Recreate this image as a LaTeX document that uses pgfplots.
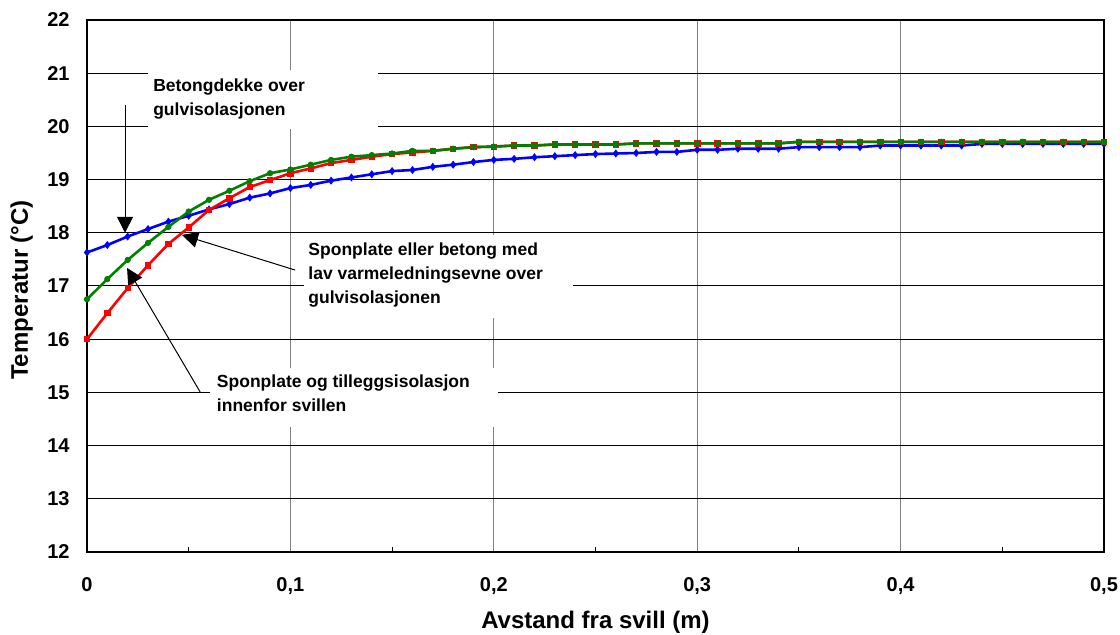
\documentclass[border=0pt]{standalone}
\usepackage{fontspec}
\setmainfont{Liberation Sans}
\usepackage{pgfplots}
\pgfplotsset{compat=1.18}
\usetikzlibrary{arrows.meta}
\definecolor{cblue}{RGB}{0,0,255}
\definecolor{cred}{RGB}{255,0,0}
\definecolor{cgreen}{RGB}{0,128,0}
\begin{document}
\begin{tikzpicture}
\begin{axis}[
  scale only axis, width=508.5pt, height=266pt,
  xmin=0, xmax=0.5, ymin=12, ymax=22,
  clip=false,
  xtick={0,0.1,0.2,0.3,0.4,0.5},
  xticklabels={0,{0,1},{0,2},{0,3},{0,4},{0,5}},
  ytick={12,13,14,15,16,17,18,19,20,21,22},
  minor xtick={0.05,0.15,0.25,0.35,0.45},
  xtick pos=bottom, ytick pos=left,
  tick align=inside,
  major tick length=0pt, minor tick length=2.5pt,
  minor tick style={black, line width=0.5pt},
  xmajorgrids, ymajorgrids,
  x grid style={gray, line width=0.5pt},
  y grid style={black, line width=0.5pt},
  axis line style={black, line width=1.3pt},
  /pgf/number format/assume math mode=true,
  ticklabel style={font=\fontsize{10}{12}\selectfont\bfseries},
  yticklabel style={inner sep=0pt, xshift=-8.5pt},
  xticklabel style={inner sep=0pt, yshift=-12.5pt},
  every axis plot/.append style={line width=1.3pt},
]
\addplot[cblue, mark=diamond*, mark size=1.7pt, mark options={line width=0.4pt}] coordinates {
(0,17.63)(0.01,17.77)(0.02,17.93)(0.03,18.07)(0.04,18.21)(0.05,18.32)(0.06,18.44)(0.07,18.54)(0.08,18.66)(0.09,18.74)
(0.10,18.84)(0.11,18.90)(0.12,18.98)(0.13,19.04)(0.14,19.10)(0.15,19.16)(0.16,19.18)(0.17,19.24)(0.18,19.28)(0.19,19.33)
(0.20,19.37)(0.21,19.39)(0.22,19.42)(0.23,19.44)(0.24,19.46)(0.25,19.48)(0.26,19.49)(0.27,19.50)(0.28,19.52)(0.29,19.52)
(0.30,19.56)(0.31,19.56)(0.32,19.58)(0.33,19.58)(0.34,19.58)(0.35,19.61)(0.36,19.61)(0.37,19.61)(0.38,19.61)(0.39,19.64)
(0.40,19.64)(0.41,19.64)(0.42,19.64)(0.43,19.64)(0.44,19.67)(0.45,19.67)(0.46,19.67)(0.47,19.67)(0.48,19.67)(0.49,19.67)
(0.50,19.67)};
\addplot[cred, mark=square*, mark size=1.35pt, mark options={line width=0.4pt}] coordinates {
(0,16.00)(0.01,16.49)(0.02,16.96)(0.03,17.39)(0.04,17.79)(0.05,18.10)(0.06,18.43)(0.07,18.65)(0.08,18.86)(0.09,18.99)
(0.10,19.12)(0.11,19.21)(0.12,19.31)(0.13,19.37)(0.14,19.43)(0.15,19.48)(0.16,19.51)(0.17,19.54)(0.18,19.58)(0.19,19.61)
(0.20,19.62)(0.21,19.64)(0.22,19.64)(0.23,19.66)(0.24,19.66)(0.25,19.66)(0.26,19.66)(0.27,19.68)(0.28,19.68)(0.29,19.68)
(0.30,19.68)(0.31,19.68)(0.32,19.68)(0.33,19.68)(0.34,19.68)(0.35,19.71)(0.36,19.71)(0.37,19.71)(0.38,19.71)(0.39,19.71)
(0.40,19.71)(0.41,19.71)(0.42,19.71)(0.43,19.71)(0.44,19.71)(0.45,19.71)(0.46,19.71)(0.47,19.71)(0.48,19.71)(0.49,19.71)
(0.50,19.71)};
\addplot[cgreen, mark=*, mark size=1.35pt, mark options={line width=0.4pt}] coordinates {
(0,16.75)(0.01,17.13)(0.02,17.49)(0.03,17.81)(0.04,18.11)(0.05,18.40)(0.06,18.62)(0.07,18.79)(0.08,18.97)(0.09,19.12)
(0.10,19.19)(0.11,19.28)(0.12,19.37)(0.13,19.43)(0.14,19.46)(0.15,19.49)(0.16,19.54)(0.17,19.54)(0.18,19.58)(0.19,19.61)
(0.20,19.62)(0.21,19.64)(0.22,19.64)(0.23,19.66)(0.24,19.66)(0.25,19.66)(0.26,19.66)(0.27,19.68)(0.28,19.68)(0.29,19.68)
(0.30,19.68)(0.31,19.68)(0.32,19.68)(0.33,19.68)(0.34,19.68)(0.35,19.71)(0.36,19.71)(0.37,19.71)(0.38,19.71)(0.39,19.71)
(0.40,19.71)(0.41,19.71)(0.42,19.71)(0.43,19.71)(0.44,19.71)(0.45,19.71)(0.46,19.71)(0.47,19.71)(0.48,19.71)(0.49,19.71)
(0.50,19.71)};
% white label boxes
\fill[white] (axis cs:0.0300,21.06) rectangle (axis cs:0.1431,19.951);
\fill[white] (axis cs:0.1067,17.959) rectangle (axis cs:0.2389,16.398);
\fill[white] (axis cs:0.0605,15.459) rectangle (axis cs:0.2021,14.350);
\node[anchor=base west, inner sep=0pt, align=left, font=\fontsize{8.75}{12}\selectfont\bfseries] at (axis cs:0.0324,20.214) {Betongdekke over\\gulvisolasjonen};
\node[anchor=base west, inner sep=0pt, align=left, font=\fontsize{8.75}{12}\selectfont\bfseries] at (axis cs:0.1087,16.68) {Sponplate eller betong med\\lav varmeledningsevne over\\gulvisolasjonen};
\node[anchor=base west, inner sep=0pt, align=left, font=\fontsize{8.75}{12}\selectfont\bfseries] at (axis cs:0.0637,14.632) {Sponplate og tilleggsisolasjon\\innenfor svillen};
% arrows
\draw[black, line width=0.5pt, -{Triangle[length=8pt,width=8pt]}] (axis cs:0.0187,20.40) -- (axis cs:0.0187,18.0);
\draw[black, line width=0.5pt, -{Triangle[length=8pt,width=8pt]}] (axis cs:0.1023,17.30) -- (axis cs:0.0467,17.96);
\draw[black, line width=0.5pt, -{Triangle[length=8pt,width=8pt]}] (axis cs:0.0556,15.01) -- (axis cs:0.0197,17.34);
% axis labels
\node[anchor=base, inner sep=0pt, font=\fontsize{12}{14}\selectfont\bfseries] at (rel axis cs:0.5,0) [yshift=-38.5pt] {Avstand fra svill (m)};
\node[anchor=base, inner sep=0pt, rotate=90, font=\fontsize{12}{14}\selectfont\bfseries] at (rel axis cs:0,0.5) [yshift=29.5pt, xshift=-2pt] {Temperatur (°C)};
\end{axis}
\pgfresetboundingbox
\path[use as bounding box] (-43.5pt,-41.5pt) rectangle (516.5pt,276pt);
\end{tikzpicture}
\end{document}
